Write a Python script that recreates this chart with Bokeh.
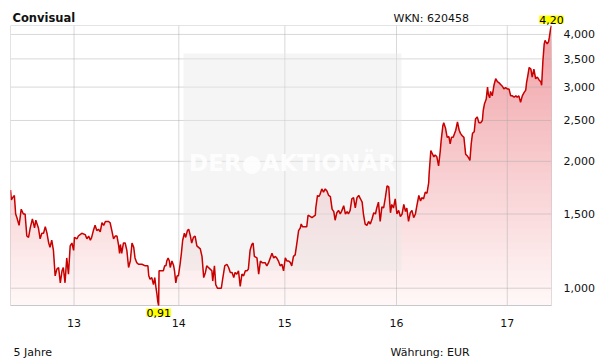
import math
import numpy as np
from bokeh.plotting import figure
from bokeh.layouts import column
from bokeh.models import Label, FixedTicker, CustomJSTickFormatter, Range1d
from bokeh.embed import file_html
from bokeh.resources import INLINE

# ---- data (trading-day index, closing price in EUR) ----
day_idx = [0, 2, 5, 9, 12, 15, 20, 25, 30, 34, 38, 42, 46, 51, 56, 59, 65, 69, 73, 77,
           81, 85, 89, 92, 96, 100, 104, 108, 112, 116, 120, 123, 127, 131, 135, 139, 143, 147, 149, 155,
           158, 166, 174, 178, 182, 186, 189, 193, 197, 201, 205, 209, 213, 217, 221, 228, 232, 236, 240, 244,
           248, 252, 254, 256, 259, 263, 267, 271, 275, 279, 283, 287, 290, 294, 298, 306, 314, 320, 322, 325,
           329, 333, 336, 339, 341, 343, 345, 346, 353, 356, 359, 362, 364, 367, 370, 372, 376, 380, 382, 385,
           388, 391, 395, 398, 401, 405, 408, 412, 415, 419, 422, 426, 430, 434, 438, 442, 446, 450, 454, 457,
           461, 465, 469, 471, 475, 478, 482, 486, 491, 494, 499, 504, 508, 512, 516, 520, 523, 527, 531, 535,
           539, 543, 547, 551, 554, 558, 562, 565, 568, 574, 578, 582, 586, 593, 597, 601, 605, 609, 613, 617,
           620, 624, 628, 632, 636, 640, 644, 648, 652, 655, 659, 663, 667, 671, 675, 677, 680, 685, 690, 693,
           698, 702, 706, 710, 711, 715, 718, 721, 725, 729, 733, 737, 741, 745, 749, 753, 756, 760, 764, 768,
           772, 776, 780, 784, 787, 791, 795, 799, 803, 807, 811, 815, 819, 822, 826, 830, 834, 838, 842, 846,
           850, 853, 857, 861, 865, 869, 873, 877, 881, 883, 885, 888, 892, 896, 900, 904, 908, 912, 916, 920,
           923, 927, 931, 935, 939, 943, 947, 951, 955, 958, 962, 966, 970, 974, 975, 979, 982, 986, 989, 993,
           997, 1001, 1003, 1007, 1009, 1013, 1017, 1021, 1024, 1027, 1031, 1037, 1041, 1045, 1048, 1052, 1056, 1060, 1064, 1068,
           1070, 1073, 1076, 1080, 1083, 1087, 1091, 1095, 1099, 1101, 1104, 1108, 1111, 1113, 1116, 1118, 1122, 1126, 1130, 1134,
           1138, 1142, 1146, 1149, 1153, 1157, 1161, 1165, 1169, 1173, 1177, 1180, 1184, 1188, 1192, 1196, 1200, 1202, 1205, 1208,
           1212, 1215, 1219, 1223, 1227, 1231, 1235, 1237, 1240, 1243, 1245, 1247, 1250, 1253, 1255, 1258, 1260]
close_eur = [1.71, 1.62, 1.64, 1.66, 1.50, 1.47, 1.41, 1.54, 1.50, 1.50, 1.33, 1.32, 1.39, 1.46, 1.39, 1.45, 1.39, 1.31, 1.35, 1.35,
             1.40, 1.35, 1.28, 1.25, 1.30, 1.23, 1.07, 1.11, 1.12, 1.03, 1.10, 1.12, 1.03, 1.18, 1.08, 1.26, 1.28, 1.23, 1.32, 1.31,
             1.33, 1.35, 1.34, 1.31, 1.33, 1.30, 1.32, 1.37, 1.41, 1.37, 1.38, 1.36, 1.43, 1.41, 1.44, 1.44, 1.43, 1.37, 1.31, 1.33,
             1.33, 1.26, 1.21, 1.27, 1.21, 1.28, 1.28, 1.23, 1.12, 1.16, 1.28, 1.25, 1.18, 1.15, 1.14, 1.14, 1.13, 1.13, 1.07, 1.05,
             1.06, 1.02, 1.06, 1.00, 0.97, 0.93, 0.91, 1.10, 1.10, 1.10, 1.13, 1.13, 1.16, 1.18, 1.16, 1.12, 1.16, 1.13, 1.10, 1.03,
             1.07, 1.07, 1.14, 1.21, 1.30, 1.35, 1.32, 1.37, 1.38, 1.33, 1.28, 1.32, 1.33, 1.26, 1.25, 1.24, 1.19, 1.06, 1.09, 1.13,
             1.12, 1.11, 1.10, 1.04, 1.13, 1.02, 1.00, 1.00, 1.00, 1.05, 1.13, 1.14, 1.12, 1.09, 1.09, 1.06, 1.09, 1.08, 1.10, 1.01,
             1.08, 1.07, 1.10, 1.10, 1.11, 1.23, 1.27, 1.28, 1.19, 1.18, 1.08, 1.16, 1.15, 1.15, 1.13, 1.15, 1.18, 1.21, 1.18, 1.19,
             1.18, 1.16, 1.13, 1.14, 1.10, 1.18, 1.16, 1.16, 1.15, 1.13, 1.19, 1.20, 1.28, 1.37, 1.39, 1.42, 1.40, 1.40, 1.40, 1.49,
             1.48, 1.47, 1.48, 1.49, 1.55, 1.66, 1.65, 1.67, 1.72, 1.69, 1.72, 1.70, 1.66, 1.65, 1.54, 1.52, 1.45, 1.51, 1.53, 1.50,
             1.53, 1.57, 1.50, 1.52, 1.50, 1.53, 1.63, 1.64, 1.55, 1.64, 1.66, 1.63, 1.60, 1.50, 1.42, 1.41, 1.44, 1.42, 1.46, 1.51,
             1.50, 1.55, 1.60, 1.44, 1.56, 1.55, 1.64, 1.75, 1.74, 1.61, 1.51, 1.58, 1.55, 1.63, 1.50, 1.53, 1.48, 1.50, 1.58, 1.52,
             1.55, 1.44, 1.51, 1.53, 1.47, 1.50, 1.58, 1.66, 1.61, 1.64, 1.63, 1.69, 1.68, 1.78, 1.87, 2.12, 2.09, 2.05, 2.07, 2.05,
             1.95, 2.12, 2.24, 2.43, 2.47, 2.40, 2.28, 2.29, 2.20, 2.28, 2.28, 2.37, 2.48, 2.37, 2.33, 2.30, 2.28, 2.08, 2.06, 2.03,
             2.01, 2.20, 2.33, 2.35, 2.52, 2.55, 2.47, 2.47, 2.50, 2.64, 2.74, 2.81, 3.00, 2.88, 2.83, 2.93, 2.86, 3.03, 3.14, 3.09,
             3.07, 3.04, 3.01, 2.97, 2.99, 2.97, 2.97, 2.86, 2.86, 2.84, 2.86, 2.84, 2.86, 2.76, 2.86, 2.91, 2.95, 3.08, 3.20, 3.34,
             3.31, 3.17, 3.31, 3.14, 3.17, 3.12, 3.09, 3.03, 3.46, 3.80, 3.87, 3.84, 3.80, 3.84, 3.94, 4.13, 4.20]

year_tick_idx = [148, 392, 639, 899, 1157]
year_tick_labels = ["13", "14", "15", "16", "17"]
price_ticks = [1.0, 1.5, 2.0, 2.5, 3.0, 3.5, 4.0]

title_text = "Convisual"
wkn_text = "WKN: 620458"
period_text = "5 Jahre"
currency_text = "Währung: EUR"
watermark_text = "DER\u25CFAKTIONÄR"

# ---- layout (px in the 611x364 page) ----
W, H = 611, 364
FL, FR, FT, FB = 10, 551, 25, 305   # plot-area edges
FB2 = 318                            # main frame bottom (room for the min marker)
X0, X1 = 0, max(day_idx)
Y0, Y1 = min(close_eur), max(close_eur)
FONT = "DejaVu Sans"

def xd(px):
    return X0 + (px - FL) / (FR - FL) * (X1 - X0)

def yd(py):
    return math.exp(math.log(Y0) + (FB - py) / (FB - FT) * math.log(Y1 / Y0))

def px_of(i):
    return FL + (day_idx[i] - X0) / (X1 - X0) * (FR - FL)

fmt = lambda v: ("%.2f" % v).replace(".", ",")
vals = np.array(close_eur)
imax = int(np.argmax(vals))
imin = int(np.argmin(vals))

# ---------------- header strip ----------------
hdr = figure(width=W, height=FT, x_range=Range1d(0, 1), y_range=Range1d(0, 1),
             x_axis_type=None, y_axis_type=None, min_border=0,
             output_backend="svg", toolbar_location=None,
             background_fill_color="white", border_fill_color="white")
hdr.outline_line_color = None
hdr.grid.visible = False

hdr.add_layout(Label(x=12, y=17.5, x_units="canvas", y_units="canvas", text=title_text,
                     text_baseline="alphabetic", text_font=FONT, text_font_style="bold",
                     text_font_size="11.5px", text_color="#111111"))
hdr.add_layout(Label(x=393, y=18.3, x_units="canvas", y_units="canvas", text=wkn_text,
                     text_baseline="alphabetic", text_font=FONT,
                     text_font_size="11px", text_color="#111111"))
# max marker sits across the plot edge: put it in the side panel so it is not clipped
hdr.add_layout(Label(x=px_of(imax), y=19, x_units="canvas", y_units="canvas", text=fmt(close_eur[imax]),
                     text_align="center", text_baseline="middle",
                     text_font=FONT, text_font_size="11px", text_color="black",
                     background_fill_color="#ffff00"), "right")

# ---------------- main chart ----------------
MH = H - FT
p = figure(width=W, height=MH, y_axis_type="log", y_axis_location="right",
           x_range=Range1d(X0, X1), y_range=Range1d(yd(FB2), Y1),
           output_backend="svg", toolbar_location=None,
           min_border_left=FL, min_border_right=W - FR, min_border_top=0, min_border_bottom=H - FB2,
           background_fill_color="white", border_fill_color="white")
p.outline_line_color = None
p.xgrid.visible = False
p.ygrid.visible = False

p.xaxis.ticker = FixedTicker(ticks=year_tick_idx)
p.xaxis.major_label_overrides = dict(zip(year_tick_idx, year_tick_labels))
p.yaxis.ticker = FixedTicker(ticks=price_ticks)
p.yaxis.formatter = CustomJSTickFormatter(code="return tick.toFixed(3).replace('.', ',');")
for ax in (p.xaxis[0], p.yaxis[0]):
    ax.axis_line_color = None
    ax.major_tick_line_color = None
    ax.minor_tick_line_color = None
    ax.major_label_text_font = FONT
    ax.major_label_text_font_size = "11px"
    ax.major_label_text_color = "#111111"
p.xaxis.major_label_standoff = -6
p.yaxis.major_label_standoff = 6

# gradient fill under the line (layered bands, plot-area relative)
N = 40
top_rgb = np.array([240, 160, 165])
bot_rgb = np.array([255, 248, 248])
for k in range(N):
    b = yd(FT + k * (FB - FT) / N)
    t = (k + 0.5) / N
    c = (top_rgb + (bot_rgb - top_rgb) * t).round().astype(int)
    p.varea(x=day_idx, y1=np.full(len(vals), Y0), y2=np.minimum(vals, b),
            fill_color="#%02x%02x%02x" % tuple(c), fill_alpha=1.0)

# grid lines (over the fill, semi-transparent)
p.segment(x0=year_tick_idx, y0=[Y0] * len(year_tick_idx), x1=year_tick_idx, y1=[Y1] * len(year_tick_idx),
          line_color="#a8a8a8", line_alpha=0.45, line_width=1)
p.segment(x0=[X0] * len(price_ticks), y0=price_ticks, x1=[X1] * len(price_ticks), y1=price_ticks,
          line_color="#a8a8a8", line_alpha=0.45, line_width=1)

# watermark box
p.quad(left=[xd(183)], right=[xd(401)], top=[yd(53)], bottom=[yd(270)],
       fill_color="#e6e6e6", fill_alpha=0.42, line_color=None)

# plot-area border
p.quad(left=[X0], right=[X1], top=[Y1], bottom=[Y0], fill_color=None,
       line_color="#c8c8c8", line_width=1)

# price line
p.line(day_idx, close_eur, line_color="#c80000", line_width=1.5)

# watermark text
p.add_layout(Label(x=xd(292), y=yd(162), text=watermark_text, text_align="center", text_baseline="middle",
                   text_font=FONT, text_font_style="bold", text_font_size="23px",
                   text_color="white", text_alpha=0.9))

# min marker (canvas units of the main chart)
p.add_layout(Label(x=px_of(imin), y=312 - FT, x_units="canvas", y_units="canvas", text=fmt(close_eur[imin]),
                   text_align="center", text_baseline="middle",
                   text_font=FONT, text_font_size="11px", text_color="black",
                   background_fill_color="#ffff00"))

# footer texts (in the bottom panel so they are not clipped)
for px, txt in ((13, period_text), (390, currency_text)):
    p.add_layout(Label(x=px, y=351.5 - FT, x_units="canvas", y_units="canvas", text=txt,
                       text_baseline="alphabetic", text_font=FONT,
                       text_font_size="11px", text_color="#111111"), "below")

page = column(hdr, p, spacing=0)
open("out.html", "w").write(file_html(page, INLINE))
